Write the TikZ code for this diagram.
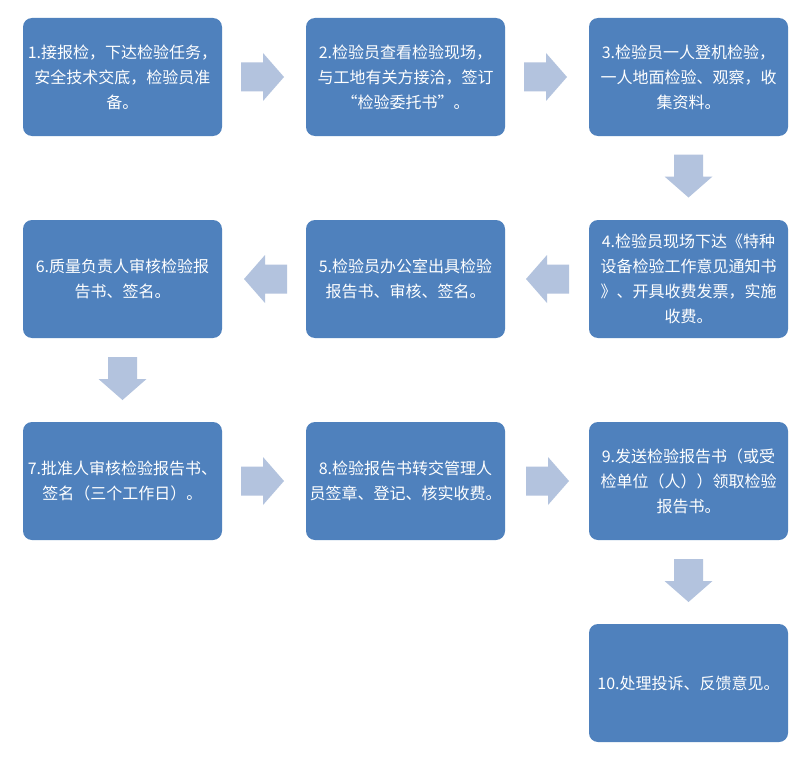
\documentclass[tikz,border=0pt]{standalone}
\usepackage{fontspec}
\newfontfamily\cjk{Noto Sans CJK SC}
\usetikzlibrary{calc}
\definecolor{boxblue}{HTML}{4F81BD}
\definecolor{arrowblue}{HTML}{B3C3DE}
\tikzset{
  stepbox/.style={fill=boxblue, rounded corners=9pt, minimum width=199pt, minimum height=118pt,
    inner sep=0pt, text=white, align=center, font=\cjk\fontsize{16}{25}\selectfont},
  blockarrow/.pic={\fill[arrowblue] (-21.5,-14.5) -- (0.5,-14.5) -- (0.5,-24) -- (21.5,0) -- (0.5,24) -- (0.5,14.5) -- (-21.5,14.5) -- cycle;}
}
\begin{document}
\begin{tikzpicture}[x=1pt,y=-1pt]
\useasboundingbox (0,0) rectangle (812,760);
\fill[white] (0,0) rectangle (812,760);
% row 1
\node[stepbox] (b1) at (122.5,77) {1.接报检，下达检验任务，\\安全技术交底，检验员准\\备。};
\node[stepbox] (b2) at (405.5,77) {2.检验员查看检验现场，\\与工地有关方接洽，签订\\“检验委托书”。};
\node[stepbox] (b3) at (688.5,77) {3.检验员一人登机检验，\\一人地面检验、观察，收\\集资料。};
% row 2
\node[stepbox] (b4) at (688.5,279) {4.检验员现场下达《特种\\设备检验工作意见通知书\\》、开具收费发票，实施\\收费。};
\node[stepbox] (b5) at (405.5,279) {5.检验员办公室出具检验\\报告书、审核、签名。};
\node[stepbox] (b6) at (122.5,279) {6.质量负责人审核检验报\\告书、签名。};
% row 3
\node[stepbox] (b7) at (122.5,481) {7.批准人审核检验报告书、\\签名（三个工作日）。};
\node[stepbox] (b8) at (405.5,481) {8.检验报告书转交管理人\\员签章、登记、核实收费。};
\node[stepbox] (b9) at (688.5,481) {9.发送检验报告书（或受\\检单位（人））领取检验\\报告书。};
% row 4
\node[stepbox] (b10) at (688.5,683) {10.处理投诉、反馈意见。};
% arrows
\pic at ($(b1.east)!0.5!(b2.west)+(-1.5,0)$) {blockarrow};
\pic at ($(b2.east)!0.5!(b3.west)+(-1.5,0)$) {blockarrow};
\pic[rotate=-90] at ($(b3.south)!0.5!(b4.north)+(0,-2)$) {blockarrow};
\pic[rotate=180] at ($(b4.west)!0.5!(b5.east)+(0.5,0)$) {blockarrow};
\pic[rotate=180] at ($(b5.west)!0.5!(b6.east)+(1.5,0)$) {blockarrow};
\pic[rotate=-90] at ($(b6.south)!0.5!(b7.north)+(0,-1.5)$) {blockarrow};
\pic at ($(b7.east)!0.5!(b8.west)+(-1.5,0)$) {blockarrow};
\pic at ($(b8.east)!0.5!(b9.west)+(0.5,0)$) {blockarrow};
\pic[rotate=-90] at ($(b9.south)!0.5!(b10.north)+(0,-1.5)$) {blockarrow};
\end{tikzpicture}
\end{document}
